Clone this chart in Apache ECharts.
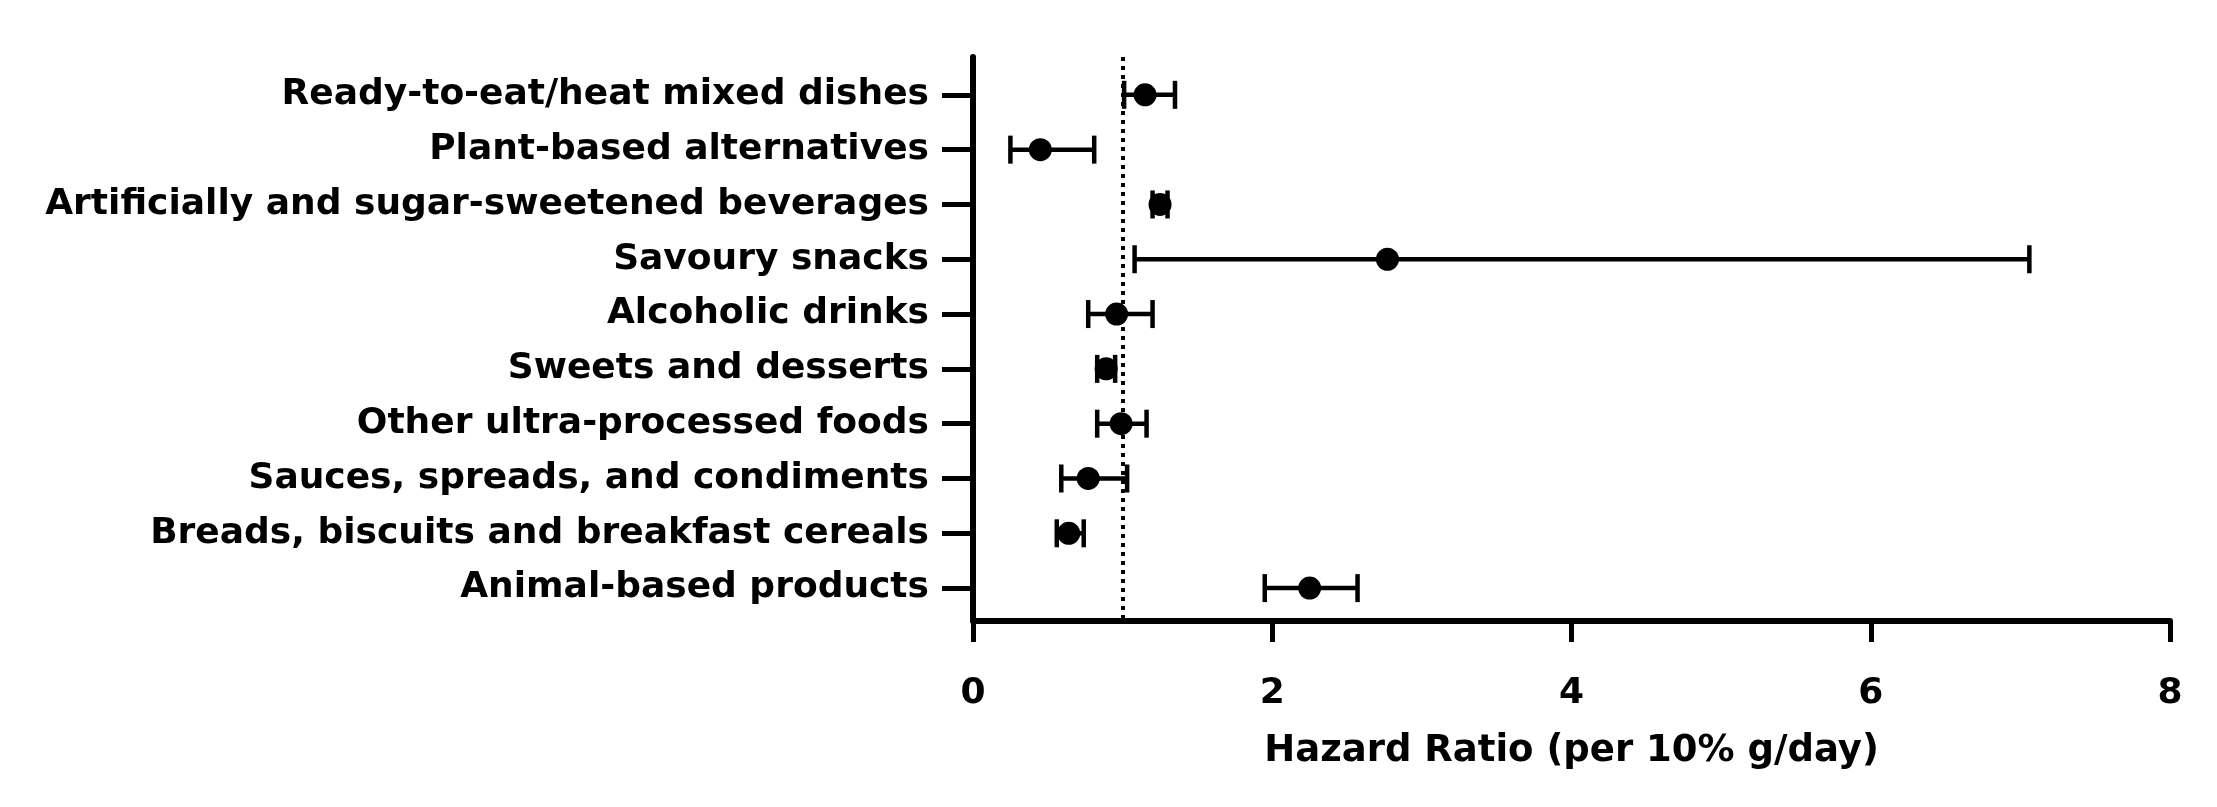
<!doctype html>
<html>
<head>
<meta charset="UTF-8">
<title>Hazard Ratio</title>
<script src="https://cdn.jsdelivr.net/npm/echarts@6/dist/echarts.min.js"></script>
<style>
  html, body { margin: 0; padding: 0; background: #fff; }
  #main { width: 2217px; height: 807px; }
</style>
</head>
<body>
<div id="main"></div>
<script>
    // 类别（从上到下）
    var categories = [
        'Ready-to-eat/heat mixed dishes',
        'Plant-based alternatives',
        'Artificially and sugar-sweetened beverages',
        'Savoury snacks',
        'Alcoholic drinks',
        'Sweets and desserts',
        'Other ultra-processed foods',
        'Sauces, spreads, and condiments',
        'Breads, biscuits and breakfast cereals',
        'Animal-based products'
    ];
    // 风险比及置信区间
    var hr    = [1.15, 0.45, 1.25, 2.77, 0.96, 0.89, 0.99, 0.77, 0.64, 2.25];
    var lower = [1.01, 0.25, 1.20, 1.08, 0.77, 0.83, 0.83, 0.59, 0.56, 1.95];
    var upper = [1.35, 0.81, 1.30, 7.06, 1.20, 0.95, 1.16, 1.03, 0.74, 2.57];
    var xTicks = [0, 2, 4, 6, 8];
    var refLine = 1;

    var rowIdx = categories.map(function (c, i) { return i; });
    var ciData = categories.map(function (c, i) { return [lower[i], upper[i], i]; });
    var pointData = categories.map(function (c, i) { return [hr[i], i]; });

    var myChart = echarts.init(document.getElementById('main'));
    var font = 'DejaVu Sans, Liberation Sans, Arial, sans-serif';

    var option = {
        animation: false,
        backgroundColor: '#fff',
        grid: { left: 973, right: 47, top: 57, bottom: 186 },
        xAxis: {
            type: 'value',
            min: xTicks[0], max: xTicks[xTicks.length - 1], interval: 2,
            name: 'Hazard Ratio (per 10% g/day)',
            nameLocation: 'middle',
            nameGap: 112,
            nameTextStyle: { color: '#000', fontSize: 37, fontWeight: 'bold', fontFamily: font },
            axisLine: { onZero: false, lineStyle: { color: '#000', width: 6 } },
            axisTick: { show: true, length: 21, lineStyle: { color: '#000', width: 5 } },
            axisLabel: { color: '#000', fontSize: 36, fontWeight: 'bold', fontFamily: font, margin: 55 },
            splitLine: { show: false }
        },
        yAxis: {
            type: 'value',
            inverse: true,
            min: -0.69, max: 9.6,
            axisLine: { show: true, onZero: false, lineStyle: { color: '#000', width: 6 } },
            axisTick: { show: true, length: 31, customValues: rowIdx, lineStyle: { color: '#000', width: 5 } },
            axisLabel: {
                customValues: rowIdx,
                color: '#000', fontSize: 36, fontWeight: 'bold', fontFamily: font, margin: 44,
                formatter: function (v) { return categories[Math.round(v)]; }
            },
            splitLine: { show: false }
        },
        series: [
            {
                type: 'custom',
                data: ciData,
                z: 3,
                renderItem: function (params, api) {
                    var a = api.coord([api.value(0), api.value(2)]);
                    var b = api.coord([api.value(1), api.value(2)]);
                    var h = 14;
                    var st = { stroke: '#000', lineWidth: 4.5 };
                    return {
                        type: 'group',
                        children: [
                            { type: 'line', shape: { x1: a[0], y1: a[1], x2: b[0], y2: b[1] }, style: st },
                            { type: 'line', shape: { x1: a[0], y1: a[1] - h, x2: a[0], y2: a[1] + h }, style: st },
                            { type: 'line', shape: { x1: b[0], y1: b[1] - h, x2: b[0], y2: b[1] + h }, style: st }
                        ]
                    };
                },
                encode: { x: [0, 1], y: 2 }
            },
            {
                type: 'scatter',
                data: pointData,
                symbol: 'circle',
                symbolSize: 23,
                z: 4,
                itemStyle: { color: '#000', opacity: 1 },
                markLine: {
                    silent: true,
                    symbol: 'none',
                    label: { show: false },
                    lineStyle: { color: '#000', type: [4, 5], width: 4 },
                    data: [{ xAxis: refLine }]
                }
            }
        ]
    };
    myChart.setOption(option);
</script>
</body>
</html>
